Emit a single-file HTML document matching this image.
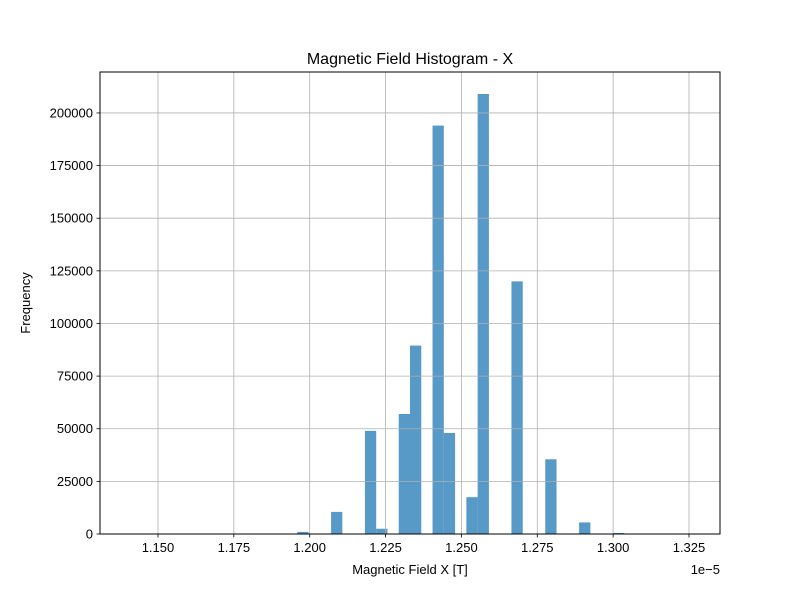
<!DOCTYPE html>
<html><head><meta charset="utf-8"><style>
body{margin:0;background:#fff}
svg text{font-family:"Liberation Sans","DejaVu Sans",sans-serif;fill:#000}
</style></head><body>
<svg id="chart" width="800" height="600" xmlns="http://www.w3.org/2000/svg">
<rect width="800" height="600" fill="#fff"/>
<g id="bars"></g>
<g id="grid"></g>
<rect x="100" y="72" width="620" height="462" fill="none" stroke="#000" stroke-width="1"/>
<g id="ticks"></g>
<text x="410" y="64" text-anchor="middle" font-size="16">Magnetic Field Histogram - X</text>
<text x="410" y="574" text-anchor="middle" font-size="13">Magnetic Field X [T]</text>
<text x="720" y="574" text-anchor="end" font-size="13">1e−5</text>
<text transform="translate(30,303) rotate(-90)" text-anchor="middle" font-size="13">Frequency</text>
</svg>
<script>
const binStart = 1.14018;
const binWidth = 0.003715;
const counts = [1,0,0,0,0,0,0,0,0,0,0,0,0,0,0,1000,0,0,10500,0,0,49000,2500,0,57000,89500,0,194000,48000,0,17500,209000,0,0,120000,0,0,35500,0,0,5500,0,0,500,0,0,0,0,0,1];
const xTicks = [1.150,1.175,1.200,1.225,1.250,1.275,1.300,1.325];
const yTicks = [0,25000,50000,75000,100000,125000,150000,175000,200000];
const NS="http://www.w3.org/2000/svg";
const X0=100,X1=720,Y0=534,Y1=72;
const dMin=binStart, dMax=binStart+binWidth*counts.length, pad=(dMax-dMin)*0.05;
const xs=v=>X0+(v-(dMin-pad))/((dMax+pad)-(dMin-pad))*(X1-X0);
const yMax=Math.max(...counts)*1.05;
const ys=v=>Y0-v/yMax*(Y0-Y1);
function mk(t,a,p){const e=document.createElementNS(NS,t);for(const k in a)e.setAttribute(k,a[k]);p.appendChild(e);return e;}
const grid=document.getElementById('grid'),bars=document.getElementById('bars'),ticks=document.getElementById('ticks');
xTicks.forEach(v=>{const x=xs(v);
 const g=mk('line',{x1:x,x2:x,y1:Y1,y2:Y0,stroke:'#b0b0b0','stroke-width':0.8},grid);
 
 
 mk('line',{x1:x,x2:x,y1:Y0,y2:Y0+3.5,stroke:'#000','stroke-width':0.8},ticks);
 const t=mk('text',{x:x,y:Y0+18,'text-anchor':'middle','font-size':13},ticks);t.textContent=v.toFixed(3);
 
 
});
yTicks.forEach(v=>{const y=ys(v);
 const g=mk('line',{x1:X0,x2:X1,y1:y,y2:y,stroke:'#b0b0b0','stroke-width':0.8},grid);
 
 
 mk('line',{x1:X0-3.5,x2:X0,y1:y,y2:y,stroke:'#000','stroke-width':0.8},ticks);
 const t=mk('text',{x:X0-7,y:y+4.5,'text-anchor':'end','font-size':13},ticks);t.textContent=String(v);
 
 
});
counts.forEach((c,i)=>{if(c<=0)return;
 const xa=xs(binStart+i*binWidth),xb=xs(binStart+(i+1)*binWidth);
 const r=mk('rect',{x:xa,y:ys(c),width:xb-xa,height:Y0-ys(c),fill:'#1f77b4','fill-opacity':0.75},bars);
 
 
});
</script>
</body></html>
